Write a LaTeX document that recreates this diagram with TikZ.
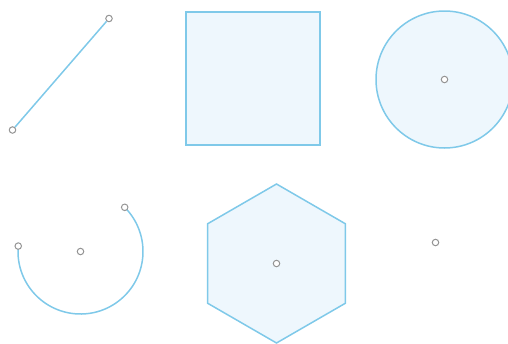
\documentclass[tikz,border=0pt]{standalone}
\usetikzlibrary{shapes.geometric,calc}
\definecolor{shEdge}{HTML}{7FC9E9}
\definecolor{shFill}{HTML}{EEF7FD}
\definecolor{hdGray}{HTML}{959595}

\begin{document}
\begin{tikzpicture}[x=1pt,y=-1pt,
    stroke/.style={draw=shEdge,line width=1.5pt},
    sh/.style={stroke,fill=shFill,inner sep=0pt,outer sep=0pt},
    hd/.style={circle,draw=hdGray,fill=white,line width=1pt,
               inner sep=0pt,minimum size=6.5pt}]
  \useasboundingbox (0,0) rectangle (508,343);
  \clip (0,0) rectangle (508,343);

  % top row
  \node[hd] (l1) at (12.5,130) {};
  \node[hd] (l2) at (109,18.5) {};
  \draw[stroke] (l1) -- (l2);

  \node[sh,minimum width=134pt,minimum height=133pt] (sq) at (253,78.5) {};

  \node[sh,circle,minimum size=137pt] (circ) at (444.5,79.5) {};
  \node[hd] (cc) at (circ.center) {};

  % bottom row
  \coordinate (ac) at (80.5,251.5);
  \draw[stroke] ($(ac)+(-175:62.5)$) arc[start angle=-175,end angle=-405,radius=62.5];
  \node[hd] (a0) at (ac) {};
  \node[hd] (a1) at ($(ac)+(-175:62.5)$) {};
  \node[hd] (a2) at ($(ac)+(-405:62.5)$) {};

  \node[sh,regular polygon,regular polygon sides=6,shape border rotate=30,
        minimum size=159pt] (hex) at (276.5,263.5) {};
  \node[hd] (hc) at (hex.center) {};

  \node[hd] (pt) at (435.5,242.5) {};
\end{tikzpicture}
\end{document}
